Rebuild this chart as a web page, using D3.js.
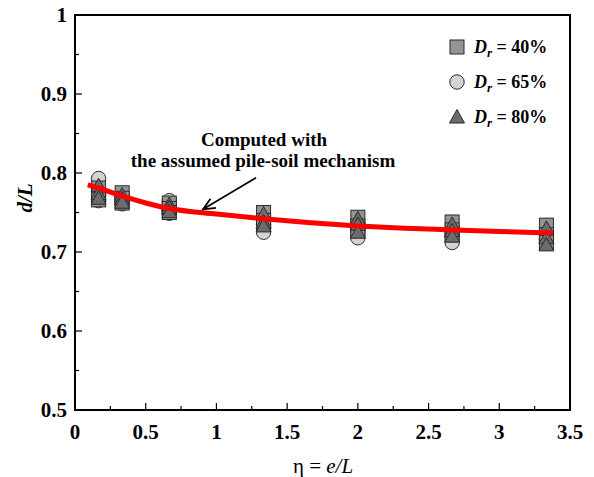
<!DOCTYPE html>
<html>
<head>
<meta charset="utf-8">
<script src="https://cdn.jsdelivr.net/npm/d3@7"></script>
<style>
  html, body { margin: 0; padding: 0; background: #fff; }
  svg { display: block; }
  text { font-family: "Liberation Serif", "Times New Roman", serif; }
</style>
</head>
<body>
<svg id="chart" width="594" height="477"></svg>
<script>
// Normalised eccentricity values (η = e/L) of the test groups
const eta = [1/6, 1/3, 2/3, 4/3, 2, 8/3, 10/3];

// Measured d/L for each relative density, several tests per η
const dr40 = [
  [0.781, 0.772, 0.766],
  [0.775, 0.768, 0.762],
  [0.762, 0.755, 0.750],
  [0.750, 0.740, 0.735],
  [0.744, 0.733, 0.728],
  [0.738, 0.728, 0.722],
  [0.734, 0.722, 0.712]
];
const dr65 = [
  [0.793, 0.772, 0.765],
  [0.770, 0.764, 0.761],
  [0.765, 0.752, 0.749],
  [0.735, 0.730, 0.725],
  [0.729, 0.722, 0.718],
  [0.724, 0.718, 0.712],
  [0.725, 0.716, 0.712]
];
const dr80 = [
  [0.784, 0.774, 0.768],
  [0.772, 0.767, 0.763],
  [0.760, 0.756, 0.751],
  [0.748, 0.738, 0.733],
  [0.742, 0.735, 0.725],
  [0.735, 0.727, 0.720],
  [0.730, 0.718, 0.709]
];

// Computed curve from the assumed pile-soil mechanism
const curveEta = [0.09, 0.167, 0.333, 0.5, 0.667, 1.0, 1.333, 1.667, 2.0, 2.333, 2.667, 3.0, 3.38];
const curveDL  = [0.785, 0.781, 0.771, 0.762, 0.755, 0.748, 0.742, 0.737, 0.733, 0.730, 0.728, 0.726, 0.724];

const xTicks = [0, 0.5, 1, 1.5, 2, 2.5, 3, 3.5];
const yTicks = [0.5, 0.6, 0.7, 0.8, 0.9, 1];
const legendLabels = ["40%", "65%", "80%"];

const svg = d3.select("#chart");
const x = d3.scaleLinear().domain([0, 3.5]).range([75, 570]);
const y = d3.scaleLinear().domain([0.5, 1]).range([410, 15]);

// Frame
svg.append("rect")
  .attr("x", x(0)).attr("y", y(1))
  .attr("width", x(3.5) - x(0)).attr("height", y(0.5) - y(1))
  .attr("fill", "none").attr("stroke", "#000").attr("stroke-width", 2);

// Inward ticks
const xMinor = d3.range(0.25, 3.5, 0.5);
const yMinor = d3.range(0.55, 1.0, 0.1);
svg.append("g").selectAll("line").data(xTicks).join("line")
  .attr("x1", d => x(d)).attr("x2", d => x(d))
  .attr("y1", y(0.5)).attr("y2", y(0.5) - 7)
  .attr("stroke", "#000").attr("stroke-width", 1.2);
svg.append("g").selectAll("line").data(xMinor).join("line")
  .attr("x1", d => x(d)).attr("x2", d => x(d))
  .attr("y1", y(0.5)).attr("y2", y(0.5) - 4)
  .attr("stroke", "#000").attr("stroke-width", 1.2);
svg.append("g").selectAll("line").data(yTicks).join("line")
  .attr("x1", x(0)).attr("x2", x(0) + 7)
  .attr("y1", d => y(d)).attr("y2", d => y(d))
  .attr("stroke", "#000").attr("stroke-width", 1.2);
svg.append("g").selectAll("line").data(yMinor).join("line")
  .attr("x1", x(0)).attr("x2", x(0) + 4)
  .attr("y1", d => y(d)).attr("y2", d => y(d))
  .attr("stroke", "#000").attr("stroke-width", 1.2);

// Tick labels
svg.append("g").selectAll("text").data(xTicks).join("text")
  .attr("x", d => x(d)).attr("y", 439)
  .attr("text-anchor", "middle")
  .attr("font-size", 21).attr("font-weight", "bold")
  .text(d => d);
svg.append("g").selectAll("text").data(yTicks).join("text")
  .attr("x", 67).attr("y", d => y(d) + 7)
  .attr("text-anchor", "end")
  .attr("font-size", 21).attr("font-weight", "bold")
  .text(d => d);

// Axis titles
const xt = svg.append("text")
  .attr("x", 323).attr("y", 473)
  .attr("text-anchor", "middle").attr("font-size", 21);
xt.append("tspan").text("η = ");
xt.append("tspan").attr("font-style", "italic").text("e/L");

svg.append("text")
  .attr("transform", "translate(32,198) rotate(-90)")
  .attr("text-anchor", "middle")
  .attr("font-size", 21).attr("font-weight", "bold").attr("font-style", "italic")
  .text("d/L");

// Marker drawing helpers
const stroke = "#2a2a2a";
function drawSquare(g, cx, cy) {
  g.append("rect").attr("x", cx - 7).attr("y", cy - 7)
    .attr("width", 14).attr("height", 14)
    .attr("fill", "#949494").attr("stroke", stroke).attr("stroke-width", 1);
}
function drawCircle(g, cx, cy) {
  g.append("circle").attr("cx", cx).attr("cy", cy).attr("r", 7.2)
    .attr("fill", "#d4d4d4").attr("stroke", stroke).attr("stroke-width", 1);
}
function drawTriangle(g, cx, cy) {
  g.append("path")
    .attr("d", `M${cx},${cy - 7.5}L${cx + 7.5},${cy + 6}L${cx - 7.5},${cy + 6}Z`)
    .attr("fill", "#6c6c6c").attr("stroke", stroke).attr("stroke-width", 1);
}

const pts = svg.append("g");
const series = [
  { values: dr65, draw: drawCircle },
  { values: dr40, draw: drawSquare },
  { values: dr80, draw: drawTriangle }
];
series.forEach(s => {
  s.values.forEach((group, i) => {
    group.forEach(v => s.draw(pts, x(eta[i]), y(v)));
  });
});

// Computed curve
const line = d3.line().x(d => x(d[0])).y(d => y(d[1])).curve(d3.curveMonotoneX);
svg.append("path")
  .datum(d3.zip(curveEta, curveDL))
  .attr("d", line)
  .attr("fill", "none").attr("stroke", "#ff0000").attr("stroke-width", 5);

// Annotation with arrow
const tail = [1.28, 0.794], tip = [0.905, 0.754];
svg.append("line")
  .attr("x1", x(tail[0])).attr("y1", y(tail[1]))
  .attr("x2", x(tip[0])).attr("y2", y(tip[1]))
  .attr("stroke", "#000").attr("stroke-width", 1.8);
{
  const tx = x(tip[0]), ty = y(tip[1]);
  const ang = Math.atan2(y(tail[1]) - ty, x(tail[0]) - tx);
  const len = 13, spread = 0.42;
  const p1 = [tx + len * Math.cos(ang - spread), ty + len * Math.sin(ang - spread)];
  const p2 = [tx + len * Math.cos(ang + spread), ty + len * Math.sin(ang + spread)];
  svg.append("path")
    .attr("d", `M${p1[0]},${p1[1]}L${tx},${ty}L${p2[0]},${p2[1]}`)
    .attr("fill", "none").attr("stroke", "#000").attr("stroke-width", 1.8);
}
svg.append("text")
  .attr("x", 264).attr("y", 146)
  .attr("text-anchor", "middle").attr("font-size", 19).attr("font-weight", "bold")
  .text("Computed with");
svg.append("text")
  .attr("x", 263).attr("y", 167)
  .attr("text-anchor", "middle").attr("font-size", 19).attr("font-weight", "bold")
  .text("the assumed pile-soil mechanism");

// Legend
const legendDraw = [drawSquare, drawCircle, drawTriangle];
legendLabels.forEach((lab, i) => {
  const ly = 47 + i * 35;
  legendDraw[i](svg, 457, ly);
  const t = svg.append("text")
    .attr("x", 474).attr("y", ly + 6)
    .attr("font-size", 18).attr("font-weight", "bold");
  t.append("tspan").attr("font-style", "italic").text("D");
  t.append("tspan").attr("font-style", "italic").attr("font-size", 13)
    .attr("dy", 4).text("r");
  t.append("tspan").attr("dy", -4).text(" = " + lab);
});
</script>
</body>
</html>
